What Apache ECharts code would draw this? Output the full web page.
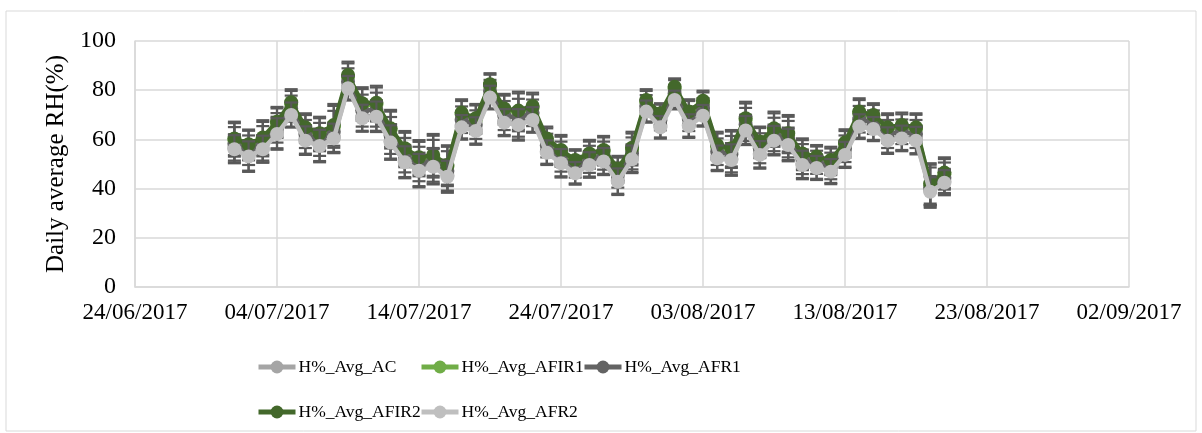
<!DOCTYPE html>
<html>
<head>
<meta charset="utf-8">
<script src="https://cdn.jsdelivr.net/npm/echarts@6/dist/echarts.min.js"></script>
<style>
  html, body { margin: 0; padding: 0; background: #fff; }
  #chart { width: 1202px; height: 433px; }
</style>
</head>
<body>
<div id="chart"></div>
<script>
// days, one point per day (01/07/2017 .. 20/08/2017)
const dates = [
  '2017-07-01','2017-07-02','2017-07-03','2017-07-04','2017-07-05','2017-07-06','2017-07-07','2017-07-08','2017-07-09','2017-07-10',
  '2017-07-11','2017-07-12','2017-07-13','2017-07-14','2017-07-15','2017-07-16','2017-07-17','2017-07-18','2017-07-19','2017-07-20',
  '2017-07-21','2017-07-22','2017-07-23','2017-07-24','2017-07-25','2017-07-26','2017-07-27','2017-07-28','2017-07-29','2017-07-30',
  '2017-07-31','2017-08-01','2017-08-02','2017-08-03','2017-08-04','2017-08-05','2017-08-06','2017-08-07','2017-08-08','2017-08-09',
  '2017-08-10','2017-08-11','2017-08-12','2017-08-13','2017-08-14','2017-08-15','2017-08-16','2017-08-17','2017-08-18','2017-08-19',
  '2017-08-20'
];

// daily average RH (%)
const avgAC = [56.4,53.5,56.2,62.8,70.3,60.0,57.8,60.9,81.2,69.0,69.7,59.2,51.2,47.8,49.3,45.3,65.4,63.9,77.4,67.3,66.4,68.3,55.1,50.8,46.7,50.1,51.5,43.3,52.4,71.8,65.4,76.5,65.9,70.1,52.8,52.1,64.1,54.2,60.0,58.2,50.1,48.9,47.4,54.2,65.7,64.7,60.0,60.9,60.0,39.2,42.9];
const avgAFIR1 = [59.8,57.5,60.1,66.6,74.4,64.2,61.9,65.1,85.5,74.0,74.2,63.8,55.7,52.0,53.0,49.0,70.2,68.0,81.8,71.9,71.0,72.9,59.7,55.0,51.0,53.6,55.1,47.5,55.9,75.3,70.0,80.7,70.6,75.0,57.0,55.8,67.9,58.5,63.8,61.8,53.6,52.4,50.9,58.0,70.6,69.2,64.2,65.2,64.3,41.5,45.8];
const avgAFR1 = [58.2,55.6,58.4,64.7,72.5,62.2,60.0,63.1,83.5,71.7,72.1,61.6,53.6,50.0,51.3,47.2,68.0,66.0,79.7,69.7,68.8,70.8,57.5,53.0,48.9,51.9,53.4,45.5,54.3,73.6,67.8,78.7,68.4,72.7,55.0,54.0,66.1,56.4,62.0,60.1,52.0,50.7,49.2,56.2,68.2,67.0,62.2,63.1,62.2,40.4,44.4];
const avgAFIR2 = [60.4,58.0,60.8,67.2,75.1,64.9,62.5,65.9,86.2,74.7,74.9,64.5,56.4,52.7,53.7,49.6,70.9,68.6,82.4,72.6,71.7,73.6,60.4,55.7,51.6,54.3,55.7,48.2,56.6,76.0,70.6,81.4,71.3,75.7,57.7,56.4,68.6,59.1,64.5,62.5,54.3,53.0,51.6,58.7,71.3,69.9,64.9,65.9,64.9,42.1,46.5];
const avgAFR2 = [56.0,53.0,56.0,62.2,69.9,59.5,57.3,60.4,80.8,68.6,69.2,58.7,50.7,47.3,48.9,44.8,64.9,63.4,77.0,66.8,65.9,67.9,54.6,50.3,46.2,49.6,51.0,42.8,51.9,71.3,64.9,76.0,65.4,69.6,52.3,51.6,63.6,53.7,59.5,57.7,49.6,48.4,46.9,53.7,65.2,64.2,59.5,60.4,59.5,38.7,42.4];

// standard deviation (error bars)
const sdHigh = [6.8,6.0,7.0,6.0,5.3,5.7,6.7,8.5,5.4,6.5,6.9,7.5,7.0,7.0,8.5,8.0,5.4,5.8,4.5,5.9,7.7,5.4,4.8,6.1,4.4,5.5,5.7,5.1,6.5,4.4,4.1,3.4,5.0,4.1,5.4,7.4,6.7,6.1,6.8,7.4,6.1,4.7,5.4,5.4,5.4,4.8,5.7,5.0,5.7,8.2,6.2];
const sdLow = [5.7,6.2,5.5,6.4,5.1,5.8,6.6,6.0,5.0,5.5,6.2,7.0,6.5,6.8,7.2,6.5,5.0,5.6,4.8,5.5,6.4,5.2,5.0,5.8,4.6,5.2,5.5,5.4,5.6,4.5,4.6,3.8,4.8,4.4,5.2,6.4,5.9,5.6,6.0,6.6,5.8,4.9,5.1,5.3,5.0,4.9,5.4,5.2,5.6,5.9,5.1];

const xTicks = ['24/06/2017','04/07/2017','14/07/2017','24/07/2017','03/08/2017','13/08/2017','23/08/2017','02/09/2017'];

// x = days since 24/06/2017
const day0 = Date.UTC(2017, 5, 24);
function dayIndex(s) {
  return Math.round((Date.parse(s + 'T00:00:00Z') - day0) / 86400000);
}

const seriesDefs = [
  { name: 'H%_Avg_AC',    data: avgAC,    sd: sdLow,  color: '#a5a5a5' },
  { name: 'H%_Avg_AFIR1', data: avgAFIR1, sd: sdHigh, color: '#70ad47' },
  { name: 'H%_Avg_AFR1',  data: avgAFR1,  sd: sdHigh, color: '#636363' },
  { name: 'H%_Avg_AFIR2', data: avgAFIR2, sd: sdHigh, color: '#43682b' },
  { name: 'H%_Avg_AFR2',  data: avgAFR2,  sd: sdLow,  color: '#bfbfbf' }
];

const font = 'Liberation Serif';
const series = [];
seriesDefs.forEach(function (d, i) {
  // error bars
  series.push({
    type: 'custom',
    name: d.name + '_err',
    z: 1 + i * 2,
    silent: true,
    data: d.data.map(function (v, k) { return [dayIndex(dates[k]), v, d.sd[k]]; }),
    renderItem: function (params, api) {
      const x = api.value(0), y = api.value(1), e = api.value(2);
      const top = api.coord([x, y + e]);
      const bot = api.coord([x, y - e]);
      const w = 6.5;
      const st = { stroke: '#595959', lineWidth: 2.2 };
      return {
        type: 'group',
        children: [
          { type: 'line', shape: { x1: top[0], y1: top[1], x2: bot[0], y2: bot[1] }, style: st },
          { type: 'line', shape: { x1: top[0] - w, y1: top[1], x2: top[0] + w, y2: top[1] }, style: st },
          { type: 'line', shape: { x1: bot[0] - w, y1: bot[1], x2: bot[0] + w, y2: bot[1] }, style: st }
        ]
      };
    }
  });
  series.push({
    type: 'line',
    name: d.name,
    z: 2 + i * 2,
    data: d.data.map(function (v, k) { return [dayIndex(dates[k]), v]; }),
    symbol: 'circle',
    symbolSize: 14,
    showAllSymbol: true,
    color: d.color,
    lineStyle: { width: 4.5, color: d.color },
    itemStyle: { color: d.color },
    animation: false
  });
});

// one legend per item, laid out like the original two rows
const legendPos = [[256, 358], [419, 358], [582, 358], [256, 403], [419, 403]];
const legends = seriesDefs.map(function (d, i) {
  return {
    data: [d.name],
    left: legendPos[i][0],
    top: legendPos[i][1],
    padding: 0,
    itemWidth: 37,
    itemHeight: 16,
    itemGap: 4,
    lineStyle: { width: 5 },
    textStyle: { fontFamily: font, fontSize: 17.5, color: '#000', padding: [0, 0, 0, -2] }
  };
});

const chart = echarts.init(document.getElementById('chart'), null, { renderer: 'canvas' });
chart.setOption({
  animation: false,
  graphic: [{
    type: 'rect',
    shape: { x: 6, y: 11, width: 1190, height: 420 },
    style: { fill: 'none', stroke: '#d9d9d9', lineWidth: 1 },
    silent: true
  }],
  legend: legends,
  grid: { left: 135, right: 73, top: 41, bottom: 146 },
  xAxis: {
    type: 'value',
    min: 0,
    max: 70,
    interval: 10,
    axisLine: { show: true, lineStyle: { color: '#d9d9d9', width: 1.5 } },
    axisTick: { show: false },
    splitLine: { show: true, lineStyle: { color: '#d9d9d9', width: 1.5 } },
    axisLabel: {
      fontFamily: font, fontSize: 23, color: '#000', margin: 14,
      formatter: function (v) { return xTicks[Math.round(v / 10)]; }
    }
  },
  yAxis: {
    type: 'value',
    min: 0,
    max: 100,
    interval: 20,
    name: 'Daily average RH(%)',
    nameLocation: 'middle',
    nameGap: 65,
    nameTextStyle: { fontFamily: font, fontSize: 25, color: '#000' },
    axisLine: { show: true, lineStyle: { color: '#d9d9d9', width: 1.5 } },
    axisTick: { show: false },
    splitLine: { show: true, lineStyle: { color: '#d9d9d9', width: 1.5 } },
    axisLabel: { fontFamily: font, fontSize: 24, color: '#000', margin: 19 }
  },
  series: series
});
</script>
</body>
</html>
